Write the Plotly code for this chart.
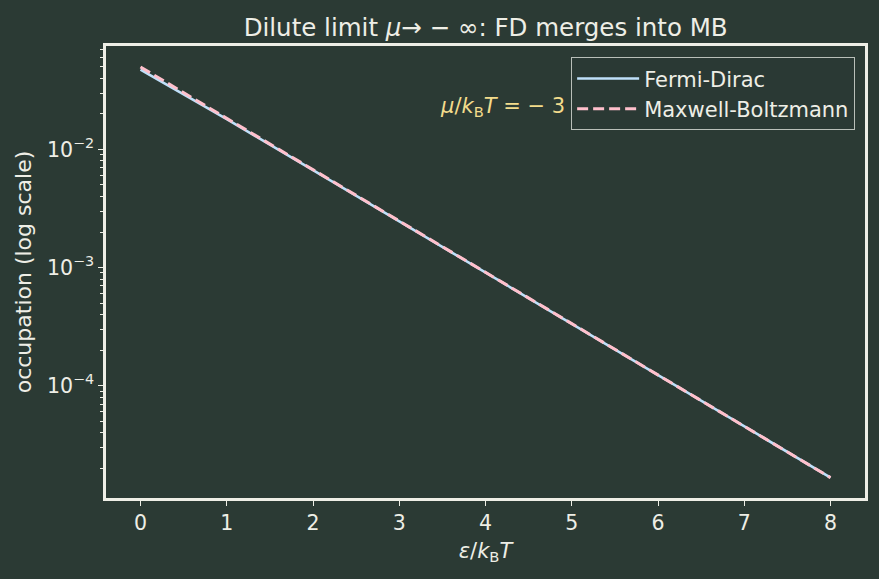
import plotly.graph_objects as go

# Data (mu/kT = -3)
energy = [0, 1, 2, 3, 4, 5, 6, 7, 8]
fermi_dirac = [0.0474, 0.0180, 0.00669, 0.00247, 0.000911, 0.000335, 0.000123, 4.54e-5, 1.67e-5]
maxwell_boltzmann = [0.0498, 0.0183, 0.00674, 0.00248, 0.000912, 0.000335, 0.000123, 4.54e-5, 1.67e-5]
x_ticks = [0, 1, 2, 3, 4, 5, 6, 7, 8]

BG = "#2b3a34"
FG = "#eeeee6"
FONT = "DejaVu Sans"

fig = go.Figure()
fig.add_trace(go.Scatter(x=energy, y=fermi_dirac, mode="lines", name="Fermi-Dirac",
                         line=dict(color="#bfe0fa", width=2.6)))
fig.add_trace(go.Scatter(x=energy, y=maxwell_boltzmann, mode="lines", name="Maxwell-Boltzmann",
                         line=dict(color="#ffc0cc", width=3, dash="11px,5px")))

fig.update_layout(
    width=879, height=579,
    paper_bgcolor=BG, plot_bgcolor=BG,
    margin=dict(l=106, r=14, t=46, b=81),
    font=dict(family=FONT, color=FG, size=20),
    title=dict(text="Dilute limit <i>μ</i>→ − ∞: FD merges into MB", x=0.5525, xanchor="center",
               y=0.953, yanchor="middle", font=dict(size=24.5, color=FG)),
    showlegend=True,
    legend=dict(x=0.987, y=0.975, xanchor="right", yanchor="top",
                bgcolor="rgba(43,58,52,0.8)", bordercolor="#b9bfb9", borderwidth=1,
                font=dict(size=21, color=FG), tracegroupgap=0, itemwidth=62),
    xaxis=dict(range=[-0.4, 8.4], tickvals=x_ticks, ticks="outside", ticklen=5, tickwidth=1,
               tickcolor=FG, showgrid=False, zeroline=False, showline=True, mirror=True,
               linecolor=FG, linewidth=2.5,
               title=dict(text="<i>ε</i>/<i>k</i><sub>B</sub><i>T</i>", font=dict(size=21), standoff=9),
               tickfont=dict(size=20.5)),
    yaxis=dict(type="log", range=[-4.95, -1.125], tickvals=[1e-4, 1e-3, 1e-2],
               ticktext=["10<sup>−4</sup>", "10<sup>−3</sup>", "10<sup>−2</sup>"],
               ticks="outside", ticklen=5, tickwidth=1, tickcolor=FG,
               minor=dict(ticks="outside", ticklen=3, tickcolor=FG, tickwidth=0.8,
                          tickvals=[k * 10.0 ** e for e in (-5, -4, -3, -2) for k in range(2, 10)],
                          showgrid=False),
               showgrid=False, zeroline=False, showline=True, mirror=True,
               linecolor=FG, linewidth=2.5,
               title=dict(text="occupation (log scale)", font=dict(size=22), standoff=10),
               tickfont=dict(size=20.5)),
    annotations=[dict(text="<i>μ</i>/<i>k</i><sub>B</sub><i>T</i> = − 3", xref="paper", yref="paper",
                      x=0.608, y=0.865, xanchor="right", yanchor="middle", showarrow=False,
                      font=dict(size=21, color="#f3dc8c"))],
)

fig.write_html("out.html")
